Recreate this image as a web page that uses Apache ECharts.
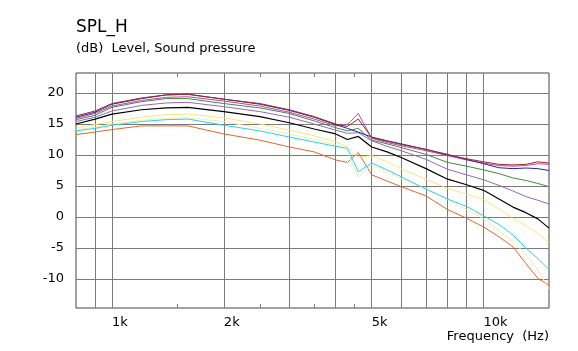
<!DOCTYPE html>
<html>
<head>
<meta charset="utf-8">
<script src="https://cdn.jsdelivr.net/npm/echarts@6.0.0/dist/echarts.min.js"></script>
<style>
  html, body { margin: 0; padding: 0; background: #fff; }
  #chart { width: 578px; height: 351px; }
</style>
</head>
<body>
<div id="chart"></div>
<script>
// frequency points (Hz) shared by every curve
const freqs = [800, 900, 1000, 1200, 1400, 1600, 2000, 2500, 3000, 3500, 4000, 4300, 4600, 5000, 5500, 6000, 7000, 8000, 9000, 10000, 11000, 12000, 13000, 14000, 15000];

// SPL curves (dB)
const maroon  = [16.3, 17.1, 18.3, 19.2, 19.7, 19.8, 19.0, 18.3, 17.3, 16.2, 15.0, 14.6, 15.8, 12.8, 12.2, 11.7, 10.9, 10.0, 9.4, 8.9, 8.5, 8.4, 8.5, 8.9, 8.7];
const navy    = [16.1, 16.9, 18.2, 19.1, 19.7, 19.8, 19.0, 18.2, 17.2, 16.1, 14.9, 14.3, 13.7, 12.9, 12.3, 11.8, 10.9, 10.1, 9.3, 8.6, 7.95, 7.8, 7.9, 7.8, 7.5];
const magenta = [15.9, 16.7, 17.9, 18.8, 19.3, 19.4, 18.7, 17.9, 16.9, 15.8, 14.7, 14.9, 16.7, 12.7, 12.0, 11.5, 10.7, 9.9, 9.2, 8.7, 8.3, 8.2, 8.3, 8.6, 8.5];
const green   = [15.7, 16.4, 17.7, 18.6, 19.1, 19.1, 18.3, 17.6, 16.7, 15.5, 14.4, 13.9, 14.3, 12.4, 11.8, 11.2, 10.1, 8.8, 8.2, 7.6, 7.0, 6.3, 5.9, 5.4, 4.9];
const purple  = [15.4, 16.1, 17.1, 18.0, 18.4, 18.5, 17.8, 17.0, 16.1, 15.0, 14.0, 13.5, 13.6, 12.3, 11.4, 10.7, 9.3, 7.7, 6.8, 6.0, 5.1, 4.2, 3.3, 2.7, 2.1];
const black   = [15.0, 15.8, 16.6, 17.3, 17.6, 17.7, 17.0, 16.2, 15.2, 14.2, 13.4, 12.5, 13.0, 11.3, 10.5, 9.6, 7.8, 6.1, 5.2, 4.3, 2.9, 1.6, 0.7, -0.3, -1.8];
const yellow  = [14.4, 14.9, 15.4, 16.1, 16.5, 16.6, 16.0, 15.0, 14.0, 13.1, 12.1, 11.3, 9.6, 9.9, 8.9, 7.8, 6.1, 4.6, 3.7, 2.8, 1.3, -0.2, -1.4, -2.7, -4.1];
const paleYel = [14.1, 14.5, 15.0, 15.6, 15.9, 16.0, 15.4, 14.3, 13.4, 12.5, 11.6, 10.6, 6.4, 8.4, 7.2, 6.2, 4.6, 2.8, 1.2, -0.3, -2.2, -4.0, -6.0, -8.5, -11.6];
const cyan    = [13.9, 14.3, 14.8, 15.4, 15.7, 15.8, 14.8, 13.9, 12.9, 12.1, 11.4, 11.1, 7.3, 8.7, 7.6, 6.5, 4.5, 2.9, 1.7, 0.2, -1.2, -2.9, -5.0, -6.7, -8.5];
const orange  = [13.3, 13.7, 14.1, 14.7, 14.7, 14.7, 13.4, 12.4, 11.3, 10.5, 9.2, 8.8, 10.4, 6.8, 5.8, 4.9, 3.4, 1.2, -0.2, -1.6, -3.2, -4.8, -7.5, -9.9, -11.0];

// axis ticks
const xGrid = [900, 1000, 2000, 3000, 4000, 5000, 6000, 7000, 8000, 9000, 10000];
const xLabels = [1000, 2000, 5000, 10000];
const xMinor = [1500, 2500, 3500, 4500];
const yTicks = [-10, -5, 0, 5, 10, 15, 20];

const font = "DejaVu Sans";
const gridColor = "#7a7a7a";

const curves = [
  { data: orange, color: "#e2662a" },
  { data: paleYel, color: "#fbe9b4" },
  { data: cyan, color: "#22d6e6" },
  { data: yellow, color: "#f2ea7c" },
  { data: black, color: "#000000" },
  { data: purple, color: "#9a64b8" },
  { data: green, color: "#3f8f3f" },
  { data: magenta, color: "#c0469c" },
  { data: navy, color: "#2222a8" },
  { data: maroon, color: "#a02a2a" },
];

const chart = echarts.init(document.getElementById("chart"), null, { renderer: "canvas" });

const minorAxis = (position) => ({
  type: "log",
  min: 800,
  max: 15000,
  position: position,
  axisLine: { show: false },
  axisLabel: { show: false },
  splitLine: { show: false },
  axisTick: { show: true, inside: true, length: 4, customValues: xMinor, lineStyle: { color: gridColor } },
});

const textStyle = (size) => ({ fontFamily: font, fontSize: size, fontWeight: "normal", color: "#000" });

chart.setOption({
  animation: false,
  title: [
    { text: "SPL_H", left: 76, top: 19, padding: 0, textStyle: textStyle(17) },
    { text: "(dB)  Level, Sound pressure", left: 76, top: 42, padding: 0, textStyle: textStyle(13) },
    { text: "Frequency  (Hz)", right: 29, top: 330, padding: 0, textStyle: textStyle(13) },
  ],
  grid: {
    left: 76,
    right: 29,
    top: 73,
    bottom: 43,
    show: true,
    borderColor: "#444",
    borderWidth: 1,
    containLabel: false,
  },
  xAxis: [
    {
      type: "log",
      min: 800,
      max: 15000,
      position: "bottom",
      axisLine: { show: false },
      axisTick: { show: true, inside: true, length: 0, customValues: xGrid },
      splitLine: { show: true, lineStyle: { color: gridColor, width: 1 } },
      axisLabel: {
        customValues: xLabels,
        align: "left",
        margin: 8,
        fontFamily: font,
        fontSize: 13,
        color: "#000",
        formatter: (v) => v / 1000 + "k",
      },
    },
    minorAxis("bottom"),
    minorAxis("top"),
  ],
  yAxis: {
    type: "value",
    min: -14.68,
    max: 23.23,
    axisLine: { show: false },
    axisTick: { show: true, inside: true, length: 0, customValues: yTicks },
    splitLine: { show: true, lineStyle: { color: gridColor, width: 1 } },
    axisLabel: {
      customValues: yTicks,
      margin: 12,
      fontFamily: font,
      fontSize: 13,
      color: "#000",
    },
  },
  series: curves.map((c) => ({
    type: "line",
    xAxisIndex: 0,
    data: freqs.map((f, i) => [f, c.data[i]]),
    showSymbol: false,
    symbol: "none",
    silent: true,
    clip: true,
    lineStyle: { color: c.color, width: c.color === "#000000" ? 1.2 : 1 },
  })),
});
</script>
</body>
</html>
